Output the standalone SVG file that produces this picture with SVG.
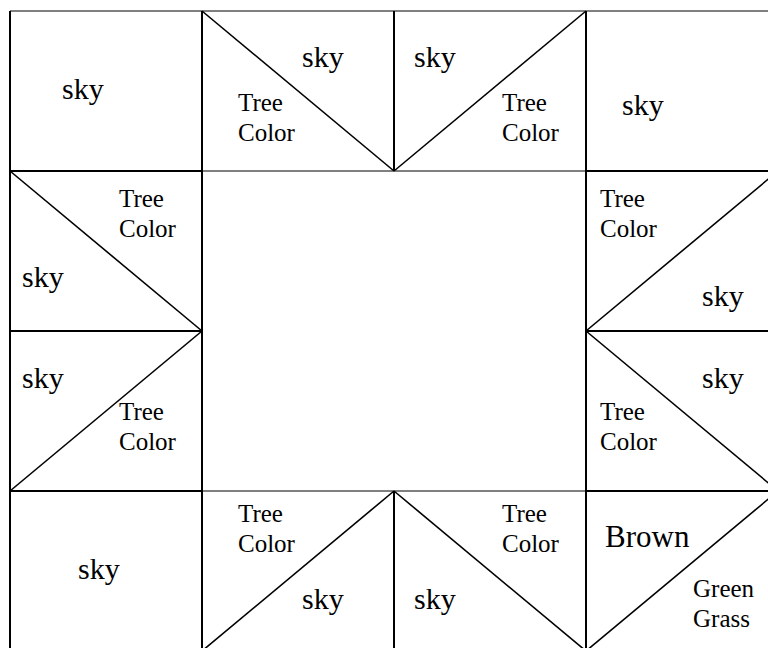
<svg xmlns="http://www.w3.org/2000/svg" width="768" height="648" viewBox="0 0 768 648">
<style>
text{font-family:'Liberation Serif','Times New Roman','DejaVu Serif',serif;fill:#000}
.L{font-size:30px}
.S{font-size:25px}
.B{font-size:31px}
.k{stroke:#000;stroke-width:2;fill:none}
.n{stroke:#000;stroke-width:1;fill:none}
.d{stroke:#000;stroke-width:1.6;fill:none}
</style>
<rect width="768" height="648" fill="#fff"/>
<g id="grid">
<line class="n" x1="10" y1="11" x2="768" y2="11"/>
<line class="k" x1="10" y1="11" x2="10" y2="648"/>
<line class="k" x1="202" y1="11" x2="202" y2="648"/>
<line class="k" x1="394" y1="11" x2="394" y2="171"/>
<line class="k" x1="394" y1="491" x2="394" y2="648"/>
<line class="k" x1="586" y1="11" x2="586" y2="648"/>
<line class="k" x1="10" y1="171" x2="202" y2="171"/>
<line class="n" x1="202" y1="171" x2="586" y2="171"/>
<line class="k" x1="586" y1="171" x2="768" y2="171"/>
<line class="k" x1="10" y1="331" x2="202" y2="331"/>
<line class="k" x1="586" y1="331" x2="768" y2="331"/>
<line class="k" x1="10" y1="491" x2="202" y2="491"/>
<line class="n" x1="202" y1="491" x2="586" y2="491"/>
<line class="k" x1="586" y1="491" x2="768" y2="491"/>
</g>
<g id="c00"><text class="L" x="62" y="99">sky</text></g>
<g id="c01">
<line class="d" x1="202" y1="11" x2="394" y2="171"/>
<text class="L" x="302" y="67">sky</text>
<text class="S" x="238" y="111">Tree</text>
<text class="S" x="238" y="141">Color</text>
</g>
<g id="c02">
<line class="d" x1="394" y1="171" x2="586" y2="11"/>
<text class="L" x="414" y="67">sky</text>
<text class="S" x="502" y="111">Tree</text>
<text class="S" x="502" y="141">Color</text>
</g>
<g id="c03"><text class="L" x="622" y="115">sky</text></g>
<g id="c10">
<line class="d" x1="10" y1="171" x2="202" y2="331"/>
<text class="S" x="119" y="207">Tree</text>
<text class="S" x="119" y="237">Color</text>
<text class="L" x="22" y="287">sky</text>
</g>
<g id="c13">
<line class="d" x1="586" y1="331" x2="778" y2="171"/>
<text class="S" x="600" y="207">Tree</text>
<text class="S" x="600" y="237">Color</text>
<text class="L" x="702" y="306">sky</text>
</g>
<g id="c20">
<line class="d" x1="202" y1="331" x2="10" y2="491"/>
<text class="L" x="22" y="388">sky</text>
<text class="S" x="119" y="420">Tree</text>
<text class="S" x="119" y="450">Color</text>
</g>
<g id="c23">
<line class="d" x1="586" y1="331" x2="778" y2="491"/>
<text class="L" x="702" y="388">sky</text>
<text class="S" x="600" y="420">Tree</text>
<text class="S" x="600" y="450">Color</text>
</g>
<g id="c30"><text class="L" x="78" y="579">sky</text></g>
<g id="c31">
<line class="d" x1="202" y1="651" x2="394" y2="491"/>
<text class="S" x="238" y="522">Tree</text>
<text class="S" x="238" y="552">Color</text>
<text class="L" x="302" y="609">sky</text>
</g>
<g id="c32">
<line class="d" x1="394" y1="491" x2="586" y2="651"/>
<text class="S" x="502" y="522">Tree</text>
<text class="S" x="502" y="552">Color</text>
<text class="L" x="414" y="609">sky</text>
</g>
<g id="c33">
<line class="d" x1="586" y1="651" x2="778" y2="491"/>
<text class="B" x="605" y="547">Brown</text>
<text class="S" x="693" y="597">Green</text>
<text class="S" x="693" y="627">Grass</text>
</g>
</svg>
